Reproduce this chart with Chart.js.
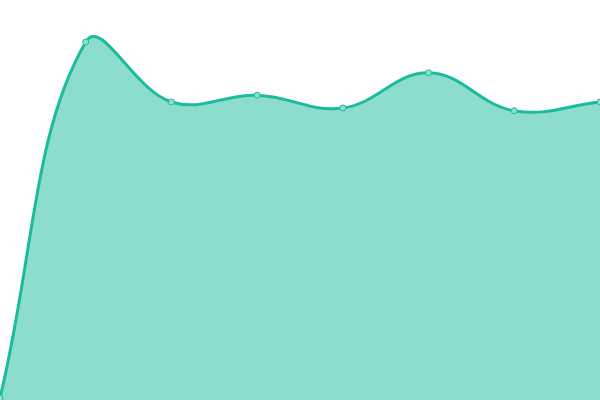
<!DOCTYPE html>
<html><head><meta charset="utf-8">
<script src="https://cdn.jsdelivr.net/npm/chart.js@4"></script>
<style>html,body{margin:0;padding:0;background:#fff}#w{width:600px;height:400px}</style>
</head><body><div id="w"><canvas id="c"></canvas></div>
<script>
const labels = ["1","2","3","4","5","6","7","8"];
const values = [0.5, 89.5, 74.5, 76.2, 73, 81.8, 72.3, 74.5];
new Chart(document.getElementById('c'), {
  type: 'line',
  data: { labels: labels, datasets: [{
    data: values,
    fill: 'origin',
    borderColor: '#1abc9c',
    backgroundColor: 'rgba(26,188,156,0.5)',
    pointBackgroundColor: '#8ce0ce',
    pointBorderColor: '#1abc9c',
    pointRadius: 3,
    pointBorderWidth: 1,
    borderWidth: 3,
    tension: 0.4
  }]},
  options: {
    responsive: true, maintainAspectRatio: false, animation: false,
    layout: { autoPadding: false, padding: 0 },
    plugins: { legend: { display: false }, tooltip: { enabled: false } },
    scales: {
      x: { display: false },
      y: { display: false, min: 0, max: 100 }
    }
  }
});
</script></body></html>
